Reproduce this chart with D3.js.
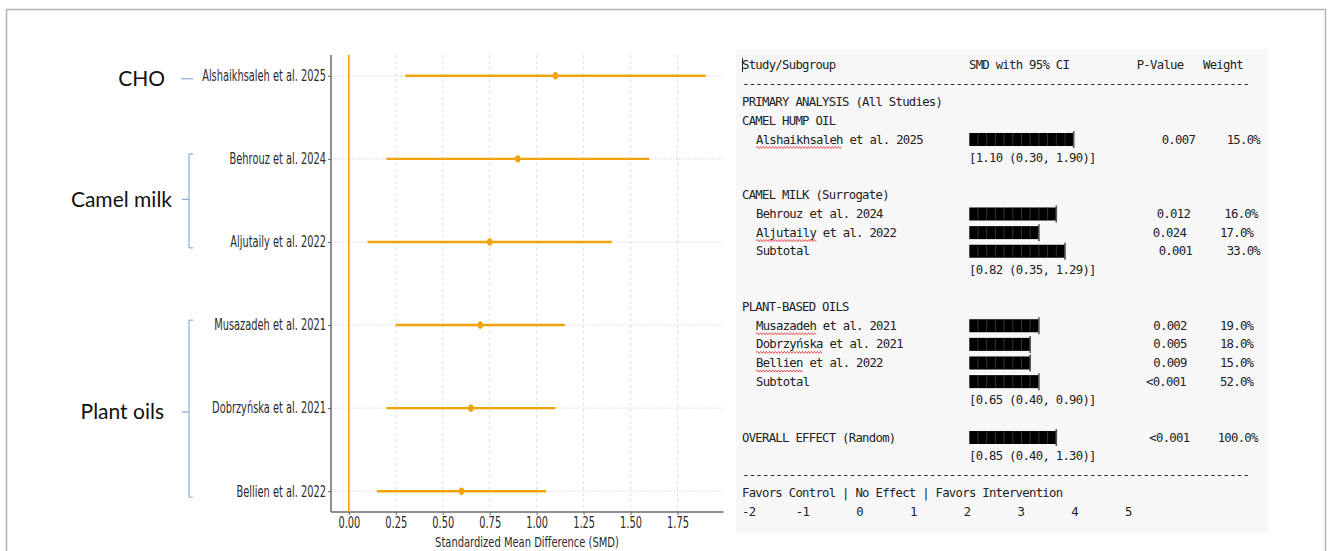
<!DOCTYPE html>
<html><head><meta charset="utf-8">
<script src="https://cdn.jsdelivr.net/npm/d3@7"></script>
<style>body{margin:0;background:#fff}svg{display:block}</style>
</head><body>
<svg id="c" width="1330" height="551"></svg>
<script>
// ---------- data ----------
const studies = ["Alshaikhsaleh et al. 2025","Behrouz et al. 2024","Aljutaily et al. 2022","Musazadeh et al. 2021","Dobrzyńska et al. 2021","Bellien et al. 2022"];
const smd    = [1.10, 0.90, 0.75, 0.70, 0.65, 0.60];
const ciLow  = [0.30, 0.20, 0.10, 0.25, 0.20, 0.15];
const ciHigh = [1.90, 1.60, 1.40, 1.15, 1.10, 1.05];
const groups = ["CHO","Camel milk","Plant oils"];
const groupFirst = [0,1,3];
const groupLast  = [0,2,5];
const xTicks = [0,0.25,0.5,0.75,1.0,1.25,1.5,1.75];
const xTitle = "Standardized Mean Difference (SMD)";

const tableHeader = ["Study/Subgroup","SMD with 95% CI","P-Value","Weight"];
const tableHeadings = ["PRIMARY ANALYSIS (All Studies)","CAMEL HUMP OIL","CAMEL MILK (Surrogate)","PLANT-BASED OILS"];
const tableLabels = ["Alshaikhsaleh et al. 2025","Behrouz et al. 2024","Aljutaily et al. 2022","Subtotal","Musazadeh et al. 2021","Dobrzyńska et al. 2021","Bellien et al. 2022","Subtotal","OVERALL EFFECT (Random)"];
const barBlocks = [12,10,8,11,8,7,7,8,10];
const pValues = ["0.007","0.012","0.024","0.001","0.002","0.005","0.009","<0.001","<0.001"];
const weights = ["15.0%","16.0%","17.0%","33.0%","19.0%","18.0%","15.0%","52.0%","100.0%"];
const ciTexts = ["[1.10 (0.30, 1.90)]","[0.82 (0.35, 1.29)]","[0.65 (0.40, 0.90)]","[0.85 (0.40, 1.30)]"];
const footerText = "Favors Control | No Effect | Favors Intervention";
const scaleTicks = [-2,-1,0,1,2,3,4,5];
const misspelled = ["Alshaikhsaleh","Aljutaily","Musazadeh","Dobrzyńska","Bellien"];

// ---------- layout (positions only) ----------
const headingLines = [2,3,7,13];
const rowLines = [4,8,9,10,14,15,16,17,20];
const ciLines = [5,11,18,21];
const labelX = [756,756,756,756,756,756,756,756,742];
const pvalX = [1161.7,1156.7,1152.7,1158.7,1153.3,1153.3,1153.3,1146,1149.3];
const weightEndX = [1260,1257.7,1253.3,1260,1253.3,1253.3,1253.3,1253.3,1257.7];
const groupDy = [3,-1,4];
const groupLabelX = [165,172,164];

const svg = d3.select("#c");
const ORANGE = "#f0a30a";
const SANS = "DejaVu Sans";
const MONO = "DejaVu Sans Mono";
const PFS = 15;     // plot font size
const MFS = 12.3;   // mono font size
const CW = 6.67;    // mono char advance

// outer frame
svg.append("rect").attr("x",6.5).attr("y",9.5).attr("width",1319).attr("height",620)
  .attr("fill","#fff").attr("stroke","#b4b4b4").attr("stroke-width",1.5);

// ---------- left forest plot ----------
const x = d3.scaleLinear().domain([-0.095,1.995]).range([331,723.5]);
const y = d3.scaleLinear().domain([-0.25,5.25]).range([55,512]);

const measure = (txt,fs) => { const t = svg.append("text").style("font-family",SANS).style("font-size",fs+"px").text(txt);
  const L = t.node().getComputedTextLength(); t.remove(); return L; };
const sx = 124 / measure(studies[0],PFS);
const sxT = 184 / measure(xTitle,14.5);

const plot = svg.append("g");
plot.selectAll(".vg").data(xTicks).join("line")
  .attr("x1",d=>x(d)).attr("x2",d=>x(d)).attr("y1",55).attr("y2",512)
  .attr("stroke","#d8d8d8").attr("stroke-width",0.8).attr("stroke-dasharray","3,3");
plot.selectAll(".hg").data(d3.range(studies.length)).join("line")
  .attr("x1",331).attr("x2",723.5).attr("y1",d=>y(d)).attr("y2",d=>y(d))
  .attr("stroke","#cfcfcf").attr("stroke-width",0.8).attr("stroke-dasharray","1.5,1.5");

const yAxis = plot.append("g").attr("transform","translate(331,0)")
  .call(d3.axisLeft(y).tickValues(d3.range(studies.length)).tickFormat(i=>studies[i]).tickSize(3));
yAxis.select(".domain").remove();
yAxis.selectAll("line").attr("stroke","#666");
yAxis.selectAll("text").attr("x",0).attr("transform",`translate(-5,0) scale(${sx},1)`)
  .style("font-family",SANS).style("font-size",PFS+"px").attr("fill","#2b2b2b");

const xAxis = plot.append("g").attr("transform","translate(0,512)")
  .call(d3.axisBottom(x).tickValues(xTicks).tickFormat(d3.format(".2f")).tickSize(3));
xAxis.select(".domain").remove();
xAxis.selectAll("line").attr("stroke","#666");
xAxis.selectAll("text").attr("y",5).attr("transform",`scale(${sx},1)`)
  .style("font-family",SANS).style("font-size",PFS+"px").attr("fill","#2b2b2b");

plot.append("line").attr("x1",331).attr("x2",331).attr("y1",55).attr("y2",512).attr("stroke","#6a6a6a").attr("stroke-width",1.5);
plot.append("line").attr("x1",331).attr("x2",723.5).attr("y1",512).attr("y2",512).attr("stroke","#6a6a6a").attr("stroke-width",1.5);

plot.append("line").attr("x1",x(0)).attr("x2",x(0)).attr("y1",55).attr("y2",512)
  .attr("stroke",ORANGE).attr("stroke-width",1.6);

plot.selectAll(".ci").data(d3.range(studies.length)).join("line")
  .attr("x1",i=>x(ciLow[i])).attr("x2",i=>x(ciHigh[i])).attr("y1",i=>y(i)).attr("y2",i=>y(i))
  .attr("stroke",ORANGE).attr("stroke-width",2.4);
plot.selectAll(".pt").data(d3.range(studies.length)).join("ellipse")
  .attr("cx",i=>x(smd[i])).attr("cy",i=>y(i)).attr("rx",2.7).attr("ry",3.7).attr("fill",ORANGE);

svg.append("text").attr("transform",`translate(527,546.5) scale(${sxT},1)`).attr("text-anchor","middle")
  .style("font-family",SANS).style("font-size","14.5px").attr("fill","#2b2b2b").text(xTitle);

// group labels and brackets
const BR = "#8fa9d6";
groups.forEach((g,k)=>{
  const y0 = y(groupFirst[k]), y1 = y(groupLast[k]);
  const ym = (y0+y1)/2;
  if (groupFirst[k]===groupLast[k]) {
    svg.append("line").attr("x1",181).attr("x2",193).attr("y1",ym+3).attr("y2",ym+3).attr("stroke",BR).attr("stroke-width",1.2);
  } else {
    const t = y0-5, b = y1+6, bx0 = 189;
    svg.append("path").attr("d",`M${bx0+4},${t} L${bx0+1},${t} Q${bx0},${t} ${bx0},${t+1} L${bx0},${b-1} Q${bx0},${b} ${bx0+1},${b} L${bx0+4},${b} M${bx0},${ym+groupDy[k]} L${bx0-7},${ym+groupDy[k]}`)
      .attr("fill","none").attr("stroke",BR).attr("stroke-width",1.2);
  }
  svg.append("text").attr("x",groupLabelX[k]).attr("y",ym+groupDy[k]).attr("dy","0.35em").attr("text-anchor","end")
    .style("font-family","Lato").style("font-size","21px").attr("fill","#111").text(g);
});

// ---------- right table ----------
svg.append("rect").attr("x",736).attr("y",49).attr("width",532).attr("height",484).attr("fill","#f7f7f7");
const ln = d3.scaleLinear().domain([0,24]).range([65,512]);
const T = svg.append("g").style("font-family",MONO).style("font-size",MFS+"px")
  .style("letter-spacing",(CW-0.602*MFS).toFixed(2)+"px").attr("fill","#222");
const mono = (xx,line,txt,anchor="start") => T.append("text").attr("x",xx).attr("y",ln(line))
  .attr("dominant-baseline","central").attr("text-anchor",anchor).text(txt);

const hdrX = [742,969,1136.7,1203];
tableHeader.forEach((h,i)=>mono(hdrX[i],0,h));
svg.append("line").attr("x1",742.5).attr("x2",742.5).attr("y1",ln(0)-7).attr("y2",ln(0)+7).attr("stroke","#222").attr("stroke-width",1);
mono(742,1,"-".repeat(76));
tableHeadings.forEach((h,i)=>mono(742,headingLines[i],h));

const bx = d3.scaleLinear().domain([0,12]).range([969.3,1073.7]);
tableLabels.forEach((lab,i)=>{
  const yy = ln(rowLines[i]);
  mono(labelX[i],rowLines[i],lab);
  mono(pvalX[i],rowLines[i],pValues[i]);
  mono(weightEndX[i],rowLines[i],weights[i],"end");
  svg.append("rect").attr("x",bx(0)).attr("y",yy-6.5).attr("width",bx(barBlocks[i])-bx(0)).attr("height",13).attr("fill","#000");
  d3.range(1,barBlocks[i]).forEach(k=>{
    svg.append("line").attr("x1",bx(k)).attr("x2",bx(k)).attr("y1",yy-6.5).attr("y2",yy+6.5)
      .attr("stroke","#4a4352").attr("stroke-width",0.7);
  });
  svg.append("line").attr("x1",bx(barBlocks[i])).attr("x2",bx(barBlocks[i])).attr("y1",yy-8.5).attr("y2",yy+8.5)
    .attr("stroke","#555").attr("stroke-width",1.6);
  const w = misspelled.find(m=>lab.startsWith(m));
  if (w) {
    const x0 = labelX[i], x1 = x0 + w.length*CW, uy = yy+8;
    let d = `M${x0},${uy}`; let up = true;
    for (let xx=x0+1.5; xx<=x1; xx+=1.5) { d += ` L${xx},${uy+(up?-1:1)}`; up=!up; }
    svg.append("path").attr("d",d).attr("fill","none").attr("stroke","#e0302a").attr("stroke-width",0.8);
  }
});
ciTexts.forEach((c,i)=>mono(969,ciLines[i],c));
mono(742,22,"-".repeat(76));
mono(742,23,footerText);
const tx = d3.scaleLinear().domain([-2,5]).range([748.7,1125]);
scaleTicks.forEach(t=>mono(tx(t)+CW,24,String(t),"end"));
</script>
</body></html>
